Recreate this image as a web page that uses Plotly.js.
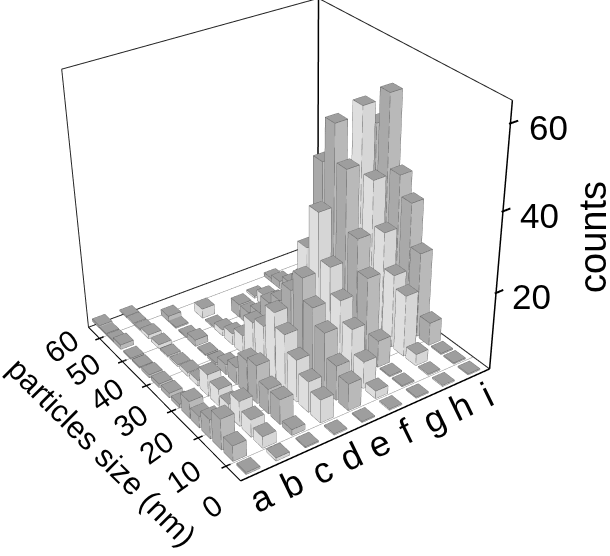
<!DOCTYPE html>
<html><head><meta charset="utf-8"><script src="https://cdn.plot.ly/plotly-3.0.1.min.js"></script>
<style>html,body{margin:0;padding:0;width:610px;height:556px;overflow:hidden;background:#fff}#p{position:absolute;left:-336px;top:-313px;width:1175px;height:1175px}</style></head><body><div id="p"></div>
<script>
const categories=['a','b','c','d','e','f','g','h','i'];
const sizes=[7.5,12,16,20,24,27.5,31.5,35.5,39.5,43.5,47.5,51.2,55.5,58.5,62,65];
const sizeTicks=[0,10,20,30,40,50,60];
const countTicks=[20,40,60];
const N=null;
const col_a=[.5,4,8,5,3,4.5,1,1.2,1,.8,.3,.3,1.2,.3,.3,.6];
const col_b=[.8,3,4.5,6.5,3,4.5,5.7,1.5,1,.5,.3,1,1,.3,.3,.3];
const col_c=[.3,1.5,6.5,6.5,10,9,4.5,2.7,.6,.3,1.7,.3,.3,1.5,N,N];
const col_d=[.3,6,8,11,15,18.5,12.5,11,5,3,1.6,.3,2.5,N,N,N];
const col_e=[.3,7,9,15,19,24.5,19,14,11,6,3.5,3.5,N,N,N,N];
const col_f=[.3,2,7,13,18,24.5,36,25,10,7,4,3,.5,N,N,N];
const col_g=[.3,.3,.3,7,21,29,44,53,42,14,7,4,2,1,N,N];
const col_h=[.3,.3,3,16,19,28,39,55,29,14,7,3,1,N,N,N];
const col_i=[.3,.3,.3,6,22,33,38,56,47,29,14,6,2,1,N,N];
const counts=[col_a,col_b,col_c,col_d,col_e,col_f,col_g,col_h,col_i];
const X=[],Y=[],Z=[],I=[],J=[],K=[],FC=[];
const ex=[],ey=[],ez=[];
const hw=0.23,hd=1.6;
function box(cx,cy,h,dark){
 const b=X.length,xs=[cx-hw,cx+hw],ys=[cy-hd,cy+hd];
 for(const z of [0,h])for(const y of ys)for(const x of xs){X.push(x);Y.push(y);Z.push(z);}
 const top='#9e9e9e',fl=dark?'#a9a9a9':'#dedede',fr=dark?'#b9b9b9':'#d6d6d6';
 const q=(a,b2,c,d,col)=>{I.push(b+a,b+a);J.push(b+b2,b+c);K.push(b+c,b+d);FC.push(col,col);};
 q(4,5,7,6,top);q(0,1,5,4,fr);q(0,2,6,4,fl);q(1,3,7,5,'#888');q(2,3,7,6,'#888');
 const v=(a,c)=>{ex.push(X[b+a],X[b+c],null);ey.push(Y[b+a],Y[b+c],null);ez.push(Z[b+a],Z[b+c],null);};
 v(4,5);v(5,7);v(7,6);v(6,4);v(0,1);v(0,2);v(0,4);v(1,5);v(2,6);
}
counts.forEach((c,j)=>c.forEach((h,i)=>{ if(h!==null) box(j+.5,sizes[i],h,j%2===0);}));
const xr=[-3,12],yr=[-10,80],zr=[-5,70];
const y0=5,y1=65,x1=9,zt=65;
const L=(x,y,z,color,width)=>({type:'scatter3d',mode:'lines',x,y,z,line:{color,width},hoverinfo:'skip',showlegend:false});
const gx=[],gy=[],gz=[],tx=[],ty=[],tz=[],zx=[],zy=[],zz=[];
sizeTicks.slice(1).forEach(t=>{gx.push(0,x1,null);gy.push(t,t,null);gz.push(0,0,null);tx.push(-.15,.15,null);ty.push(t,t,null);tz.push(0,0,null);});
countTicks.forEach(t=>{zx.push(x1-.05,x1+.28,null);zy.push(y0,y0,null);zz.push(t,t,null);});
const tr=[
 {type:'mesh3d',x:X,y:Y,z:Z,i:I,j:J,k:K,facecolor:FC,flatshading:true,lighting:{ambient:1,diffuse:0,specular:0,roughness:1,fresnel:0},hoverinfo:'skip',showscale:false},
 L(ex,ey,ez,'#555',1),
 L(gx,gy,gz,'#888',1),
 L(tx,ty,tz,'#000',3),
 L(zx,zy,zz,'#000',4),
 L([0,x1],[y0,y0],[0,0],'#000',3),
 L([0,0],[y0,y1],[0,0],'#000',2),
 L([x1,x1],[y0,y0],[0,zt],'#000',3),
 L([x1,x1],[y1,y1],[0,zt],'#000',3),
 L([0,0,x1,x1],[y1,y1,y1,y0],[0,zt,zt,zt],'#222',2),
 L([0,x1,x1],[y1,y1,y0],[0,0,0],'#222',2)
];
const ann=[];
categories.forEach((c,j)=>ann.push({x:j+.1,y:-1,z:0,text:c,showarrow:false,textangle:-26,font:{family:'Liberation Sans',size:36,color:'#000'}}));
sizeTicks.forEach(t=>ann.push({x:-1.2,y:t+2,z:0,text:String(t),showarrow:false,textangle:-35,font:{family:'Liberation Sans',size:30,color:'#000'}}));
countTicks.forEach(t=>ann.push({x:9.85,y:1,z:t-1,text:String(t),showarrow:false,font:{family:'Liberation Sans',size:35,color:'#000'}}));
const ox=336,oy=313,S=1175;
const P=(px,py,text,angle,size)=>({xref:'paper',yref:'paper',x:(px+ox)/S,y:1-(py+oy)/S,text,textangle:angle,showarrow:false,xanchor:'center',yanchor:'middle',font:{family:'Liberation Sans',size,color:'#000'}});
const ax=(r)=>({range:r,showgrid:false,showline:false,zeroline:false,showticklabels:false,showbackground:false,showspikes:false,ticks:'',title:{text:''}});
Plotly.newPlot('p',tr,{width:S,height:S,margin:{l:0,r:0,t:0,b:0},paper_bgcolor:'#fff',showlegend:false,
 annotations:[P(593,237,'counts',-90,38),P(102,452,'particles size (nm)',45,31)],
 scene:{domain:{x:[0,1],y:[0,1]},dragmode:'orbit',annotations:ann,xaxis:ax(xr),yaxis:ax(yr),zaxis:ax(zr),aspectmode:'manual',aspectratio:{x:15/9,y:90/60,z:75/65},
 camera:{projection:{type:'perspective'},eye:{x:-2.223,y:-3.319,z:2.381},center:{x:-.136,y:-.019,z:-.138},up:{x:.0191,y:-.0124,z:.9997}}}},{displayModeBar:false});
</script></body></html>
